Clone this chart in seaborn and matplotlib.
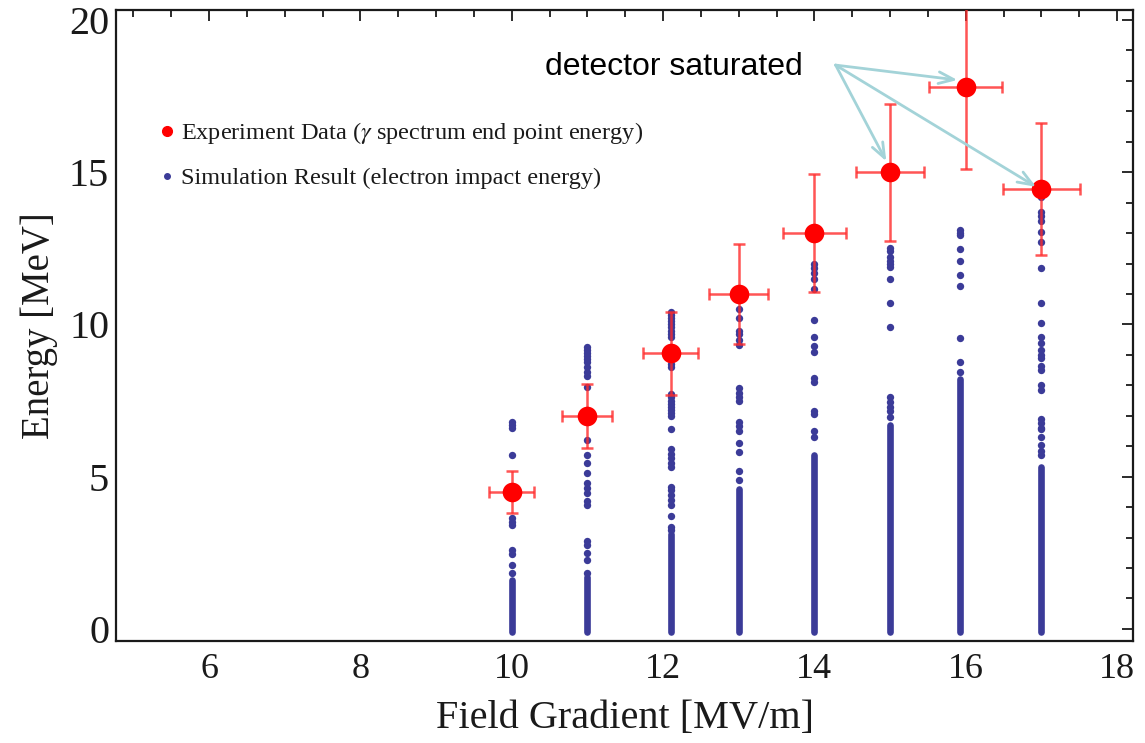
import numpy as np
import pandas as pd
import matplotlib
matplotlib.use("Agg")
import matplotlib.pyplot as plt
from matplotlib.lines import Line2D
from matplotlib.ticker import MultipleLocator
import seaborn as sns

# ---------------- data ----------------
exp_x = [10, 11, 12.1, 13, 14, 15, 16, 17]
exp_y = [4.5, 7.0, 9.05, 11.0, 13.0, 15.0, 17.8, 14.45]
exp_xerr = [0.30, 0.33, 0.36, 0.39, 0.42, 0.45, 0.48, 0.51]
exp_yerr = [0.68, 1.05, 1.36, 1.65, 1.95, 2.25, 2.68, 2.17]

sim_x = [10, 11, 12.1, 13, 14, 15, 15.92, 17]
sim_dense_bottom = [-0.1, -0.1, -0.1, -0.1, -0.1, -0.1, -0.1, -0.1]
sim_dense_top = [1.6, 1.7, 3.1, 4.6, 5.7, 6.7, 8.2, 5.3]

sim_sparse_10 = [6.8, 6.7, 6.6, 5.72, 3.65, 3.5, 3.4, 2.6, 2.45, 2.1, 1.85]
sim_sparse_11 = [9.25, 9.15, 9.05, 8.95, 8.85, 8.75, 8.6, 8.45, 8.3, 7.95, 7.2,
                 6.97, 6.2, 5.72, 5.45, 5.13, 4.8, 4.63, 4.47, 4.2, 4.08, 2.9,
                 2.76, 2.5, 2.27, 1.84]
sim_sparse_12 = [10.4, 10.3, 10.2, 10.1, 10.0, 9.9, 9.8, 9.7, 9.6, 8.7, 8.6,
                 7.7, 7.6, 7.5, 7.4, 7.3, 7.2, 7.1, 7.0, 6.55, 5.9, 5.75, 5.6,
                 5.45, 5.3, 4.67, 4.55, 4.4, 4.24, 4.08, 3.7, 3.35, 3.26]
sim_sparse_13 = [10.5, 10.2, 9.8, 9.67, 9.5, 9.34, 7.9, 7.75, 7.6, 7.5, 6.8,
                 6.65, 6.5, 6.1, 5.8, 5.2, 4.9]
sim_sparse_14 = [12.0, 11.85, 11.7, 11.5, 11.15, 10.15, 9.6, 9.3, 9.1, 8.25,
                 8.1, 7.15, 7.05, 6.5, 6.3]
sim_sparse_15 = [12.5, 12.4, 12.2, 12.1, 12.0, 11.9, 11.5, 10.7, 9.9, 7.6,
                 7.45, 7.3, 7.14, 6.95]
sim_sparse_16 = [13.1, 13.0, 12.95, 12.47, 12.08, 11.64, 11.25, 9.57, 8.78,
                 8.45]
sim_sparse_17 = [14.2, 13.7, 13.55, 13.4, 13.05, 12.7, 11.85, 10.7, 10.05,
                 9.6, 9.4, 9.15, 9.0, 8.9, 8.65, 8.5, 8.0, 7.85, 6.9, 6.75,
                 6.6, 6.55, 6.3, 6.05, 5.85, 5.7]

sim_sparse = [sim_sparse_10, sim_sparse_11, sim_sparse_12, sim_sparse_13,
              sim_sparse_14, sim_sparse_15, sim_sparse_16, sim_sparse_17]

x_ticks = [6, 8, 10, 12, 14, 16, 18]
y_ticks = [0, 5, 10, 15, 20]

annot_text = "detector saturated"
annot_start = (14.28, 18.52)
annot_targets_x = [15.89, 14.95, 16.93]
annot_targets_y = [18.03, 15.36, 14.52]

legend_labels = [r"Experiment Data ($\gamma$ spectrum end point energy)",
                 "Simulation Result (electron impact energy)"]

# ---------------- style ----------------
sns.set_theme(style="white")
plt.rcParams["font.family"] = ["Liberation Serif", "DejaVu Serif"]
plt.rcParams["mathtext.fontset"] = "stix"

RED = "#FF0000"
BLUE = "#3B3B98"
ARROW = "#A3D3D8"
INK = "#1A1A1A"

fig = plt.figure(figsize=(11.45, 7.43), dpi=100)
ax = fig.add_axes([116 / 1145, 1 - 641 / 743, (1133 - 116) / 1145, (641 - 10) / 743])

# simulation: dense parts
ax.vlines(sim_x, sim_dense_bottom, sim_dense_top, color=BLUE, lw=4.8,
          capstyle="round", zorder=2)
# simulation: sparse dots
rows = []
for xv, ys in zip(sim_x, sim_sparse):
    for yv in ys:
        rows.append((xv, yv))
sim_df = pd.DataFrame(rows, columns=["x", "y"])
sns.scatterplot(data=sim_df, x="x", y="y", color=BLUE, s=28, linewidth=0,
                ax=ax, zorder=3, legend=False)

# experiment
ax.errorbar(exp_x, exp_y, xerr=exp_xerr, yerr=exp_yerr, fmt="none",
            ecolor="#FF2A2A", elinewidth=1.8, capsize=4, capthick=1.8,
            alpha=0.8, zorder=4)
exp_df = pd.DataFrame({"x": exp_x, "y": exp_y})
sns.scatterplot(data=exp_df, x="x", y="y", color=RED, s=200, linewidth=0,
                ax=ax, zorder=5, legend=False)

# annotation
ax.text(13.85, 18.45, annot_text, family=["Liberation Sans", "DejaVu Sans"],
        fontsize=23, ha="right", va="center", color="black", zorder=6)
for tx, ty in zip(annot_targets_x, annot_targets_y):
    ax.annotate("", xy=(tx, ty), xytext=annot_start,
                arrowprops=dict(arrowstyle="->,head_length=0.9,head_width=0.35",
                                color=ARROW, lw=2, shrinkA=0, shrinkB=0),
                zorder=6)

# axes
ax.set_xlim(4.77, 18.21)
ax.set_ylim(-0.4, 20.33)
ax.set_xticks(x_ticks)
ax.set_yticks(y_ticks)
ax.xaxis.set_minor_locator(MultipleLocator(0.5))
ax.yaxis.set_minor_locator(MultipleLocator(1))
ax.tick_params(which="both", direction="in", top=True, right=True,
               color=INK, width=1.3, labelcolor=INK)
ax.tick_params(which="major", length=8)
ax.tick_params(which="minor", length=5)
ax.tick_params(axis="x", which="major", labelsize=26, pad=9)
ax.tick_params(axis="y", which="major", labelsize=29, pad=5)
for sp in ax.spines.values():
    sp.set_color(INK)
    sp.set_linewidth(1.6)

ax.set_xlabel("Field Gradient [MV/m]", fontsize=29, labelpad=10, color=INK)
ax.set_ylabel("Energy [MeV]", fontsize=28, labelpad=8, color=INK)

handles = [Line2D([], [], marker="o", ls="", color=RED, markersize=7),
           Line2D([], [], marker="o", ls="", color=BLUE, markersize=4)]
ax.legend(handles, legend_labels, loc="upper left",
          bbox_to_anchor=(0.044, 0.825), frameon=False, fontsize=17.5,
          handlelength=0.5, handletextpad=0.35, borderpad=0, borderaxespad=0,
          labelspacing=0.85, labelcolor=INK)

fig.savefig("out.png", dpi=100)
